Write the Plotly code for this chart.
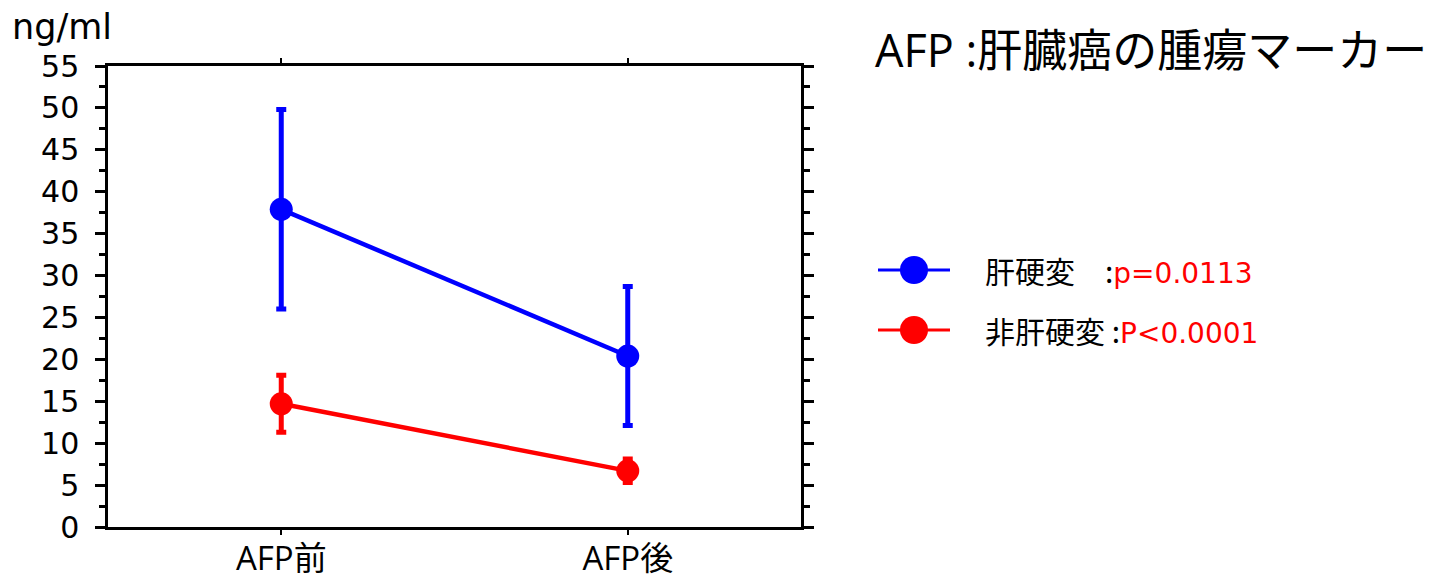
import plotly.graph_objects as go

# AFP values (ng/ml) before and after, mean with SD
categories = ["AFP前", "AFP後"]
series_names = ["肝硬変", "非肝硬変"]
name_gaps = ["\u2003", " "]
p_values = ["p=0.0113", "P<0.0001"]
cirrhosis_mean = [37.9, 20.4]
cirrhosis_err = [11.9, 8.3]
non_cirrhosis_mean = [14.7, 6.7]
non_cirrhosis_err = [3.4, 1.4]
colors = ["#0000ff", "#ff0000"]

W, H = 1438, 581
L, R, T, B = 108, 801, 66, 527  # plot area in pixels


def px_x(p):
    return (p - L) / (R - L)


def px_y(p):
    return (B - p) / (B - T)


NUM = "DejaVu Sans, sans-serif"
LAT = "Open Sans, Noto Sans CJK JP, sans-serif"
CJK = "Noto Sans CJK JP, sans-serif"

fig = go.Figure()
for name, mean, err, col in [
    (series_names[0], cirrhosis_mean, cirrhosis_err, colors[0]),
    (series_names[1], non_cirrhosis_mean, non_cirrhosis_err, colors[1]),
]:
    fig.add_trace(go.Scatter(
        x=categories, y=mean, name=name, mode="lines+markers",
        line=dict(color=col, width=4.5),
        marker=dict(color=col, size=23),
        error_y=dict(type="data", array=err, visible=True,
                     color=col, thickness=5, width=5),
        showlegend=False,
    ))

axis_common = dict(showline=True, linecolor="black", linewidth=2.5,
                   mirror="allticks", ticks="outside", tickcolor="black",
                   showgrid=False, zeroline=False, automargin=False)

fig.update_xaxes(**axis_common, type="category", range=[-0.5, 1.5],
                 ticklen=5, tickwidth=2, ticklabelstandoff=-4,
                 tickfont=dict(family=LAT, size=33, color="black"))
fig.update_yaxes(**axis_common, range=[0, 55], dtick=5, tick0=0,
                 ticklen=10, tickwidth=2.5, ticklabelstandoff=10,
                 minor=dict(ticks="outside", dtick=2.5, ticklen=6,
                            tickwidth=2.5, tickcolor="black"),
                 tickfont=dict(family=NUM, size=30, color="black"))

annotations = [
    dict(text="ng/ml", x=px_x(10), y=px_y(27), xanchor="left",
         yanchor="middle", font=dict(family=NUM, size=35, color="black")),
    dict(text="AFP :肝臓癌の腫瘍マーカー", x=px_x(873), y=px_y(50),
         xanchor="left", yanchor="middle",
         font=dict(family=LAT, size=45, color="black")),
]
shapes = []
legend_y = [270, 330]
for i in range(2):
    y = legend_y[i]
    shapes.append(dict(type="line", xref="paper", yref="paper",
                       x0=px_x(878), x1=px_x(950), y0=px_y(y), y1=px_y(y),
                       line=dict(color=colors[i], width=3)))
    shapes.append(dict(type="circle", xref="paper", yref="paper",
                       x0=px_x(900), x1=px_x(928), y0=px_y(y - 14),
                       y1=px_y(y + 14), fillcolor=colors[i],
                       line=dict(color=colors[i], width=0)))
    annotations.append(dict(
        text=(f"{series_names[i]}{name_gaps[i]}:"
              f"<span style='color:#ff0000;font-family:DejaVu Sans;"
              f"font-size:28px'>{p_values[i]}</span>"),
        x=px_x(983), y=px_y(y), xanchor="left", yanchor="middle",
        font=dict(family=CJK, size=30, color="black")))

for a in annotations:
    a.update(xref="paper", yref="paper", showarrow=False)

fig.update_layout(
    width=W, height=H,
    margin=dict(l=L, r=W - R, t=T, b=H - B, pad=0),
    plot_bgcolor="white", paper_bgcolor="white",
    annotations=annotations, shapes=shapes,
)

fig.write_html("out.html")
